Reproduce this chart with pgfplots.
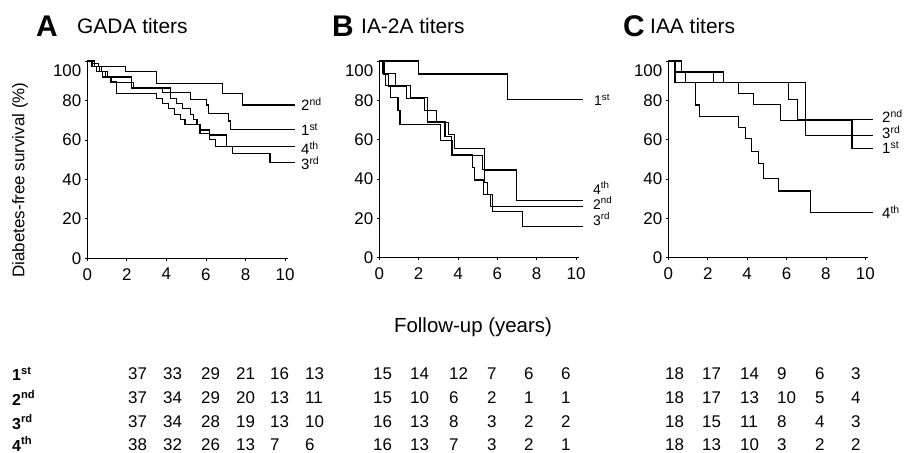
\documentclass[border=0pt]{standalone}
\usepackage{fontspec}
\setmainfont{Liberation Sans}
\usepackage{pgfplots}
\pgfplotsset{compat=1.18}
\newcommand\fs[1]{\fontsize{#1}{#1}\selectfont}
\pgfplotsset{km/.style={scale only axis, xmin=0, xmax=10.15, ymin=0, ymax=100,
  axis x line=bottom, axis y line=left, axis line style={-, line width=0.8pt},
  xtick={0,2,4,6,8,10}, ytick={0,20,40,60,80}, extra y ticks={100},
  extra y tick style={yticklabel style={yshift=-10bp}},
  tick align=outside, major tick length=2.5bp, tick style={line width=0.8pt, black},
  tick label style={font=\fs{17}}, /pgf/number format/assume math mode=true,
  xticklabel style={yshift=-4bp},
  clip=false, anchor=south west,
  cycle list={{black, no markers}},
  every axis plot post/.append style={const plot, black, line width=1.1pt, mark=none}}}
\begin{document}
\begin{tikzpicture}[x=1bp,y=1bp]
\path[use as bounding box] (0,0) rectangle (904,453);
% Panel A
\begin{axis}[km, at={(87.3bp,194.7bp)}, width=200.7bp, height=197.3bp]
\addplot coordinates {(0,100)(0.25,98.6)(0.55,97.1)(1.94,94.9)(3.51,88.7)(6.83,83.6)(7.84,77.7)(10.5,77.7)};
\addplot coordinates {(0,100)(0.35,97.3)(0.7,94.6)(1.0,91.9)(2.25,86.3)(4.19,83.8)(5.2,80.7)(6.05,77.7)(6.15,73.5)(7.15,69.6)(7.25,65.5)(10.5,65.5)};
\addplot coordinates {(0,100)(0.2,97.3)(0.45,94.6)(0.75,91.9)(1.2,89.2)(2.35,86.5)(3.8,83.8)(4.2,81.1)(4.5,78.4)(4.8,75.7)(5.2,73)(5.35,70.3)(5.55,67.6)(5.7,65)(6.2,62.5)(7.05,56.6)(7.35,52.9)(9.24,48.6)(10.5,48.6)};
\addplot coordinates {(0,100)(0.25,97.4)(0.6,94.7)(0.9,92.1)(1.2,89.5)(1.49,83.6)(3.5,81)(3.8,78.4)(4.1,75.7)(4.4,73)(4.7,70.3)(4.94,67.9)(5.7,63.4)(6.2,60)(6.5,56.6)(10.5,56.6)};
\end{axis}
% Panel B
\begin{axis}[km, at={(379.3bp,195.3bp)}, width=199.7bp, height=196.7bp]
\addplot coordinates {(0,100)(1.98,93.4)(6.5,80.2)(10.37,80.2)};
\addplot coordinates {(0,100)(0.2,93.3)(0.45,87.3)(1.36,81)(2.3,75)(2.45,69)(3.34,61.5)(3.65,52.2)(4.75,46)(4.85,39.5)(5.3,31.9)(5.65,25.9)(10.37,25.9)};
\addplot coordinates {(0,100)(0.15,93.8)(0.3,87.5)(0.55,81.3)(0.95,75)(1.05,67.5)(3.1,59.5)(3.7,51.9)(5.25,45)(5.35,38)(5.5,31.9)(5.75,23.4)(7.3,15.8)(10.37,15.8)};
\addplot coordinates {(0,100)(0.25,93.8)(0.8,87.5)(1.6,81.3)(2.45,75)(2.9,68.8)(3.5,62.5)(3.8,55.6)(5.35,44.6)(6.98,29.3)(10.37,29.3)};
\end{axis}
% Panel C
\begin{axis}[km, at={(668.3bp,195.3bp)}, width=200bp, height=196.7bp]
\addplot coordinates {(0,100)(0.34,88.9)(3.56,83.3)(4.32,77.8)(5.68,69.7)(9.32,55.3)(10.4,55.3)};
\addplot coordinates {(0,100)(0.68,94.4)(2.29,88.9)(6.1,80.5)(6.56,70.3)(10.4,70.3)};
\addplot coordinates {(0,100)(0.68,94.4)(2.8,88.9)(6.95,61.9)(10.4,61.9)};
\addplot coordinates {(0,100)(0.34,94.4)(0.85,88.9)(1.36,77.6)(1.58,72)(3.56,66.1)(3.9,60.7)(4.24,54.2)(4.58,48)(4.83,40.3)(5.6,33.9)(7.2,23)(10.4,23)};
\end{axis}
% titles
\node[anchor=west, inner sep=0, font=\fs{30}\bfseries] at (36,427) {A};
\node[anchor=west, inner sep=0, font=\fs{21}] at (77,427) {GADA titers};
\node[anchor=west, inner sep=0, font=\fs{30}\bfseries] at (332,427) {B};
\node[anchor=west, inner sep=0, font=\fs{21}] at (361,427) {IA-2A titers};
\node[anchor=west, inner sep=0, font=\fs{30}\bfseries] at (623,427) {C};
\node[anchor=west, inner sep=0, font=\fs{21}] at (650,427) {IAA titers};
% y label
\node[rotate=90, inner sep=0, font=\fs{17}] at (20,273) {Diabetes-free survival (\%)};
% x label
\node[inner sep=0, font=\fs{20.5}] at (473,126) {Follow-up (years)};
% curve labels A
\node[anchor=west, inner sep=0, font=\fs{15}] at (301,349) {2\textsuperscript{nd}};
\node[anchor=west, inner sep=0, font=\fs{15}] at (301,323) {1\textsuperscript{st}};
\node[anchor=west, inner sep=0, font=\fs{15}] at (301,305) {4\textsuperscript{th}};
\node[anchor=west, inner sep=0, font=\fs{15}] at (301,290) {3\textsuperscript{rd}};
% curve labels B
\node[anchor=west, inner sep=0, font=\fs{14}] at (594,353) {1\textsuperscript{st}};
\node[anchor=west, inner sep=0, font=\fs{14}] at (593,265) {4\textsuperscript{th}};
\node[anchor=west, inner sep=0, font=\fs{14}] at (593,250) {2\textsuperscript{nd}};
\node[anchor=west, inner sep=0, font=\fs{14}] at (593,234) {3\textsuperscript{rd}};
% curve labels C
\node[anchor=west, inner sep=0, font=\fs{15}] at (882,337) {2\textsuperscript{nd}};
\node[anchor=west, inner sep=0, font=\fs{15}] at (882,321) {3\textsuperscript{rd}};
\node[anchor=west, inner sep=0, font=\fs{15}] at (882,305) {1\textsuperscript{st}};
\node[anchor=west, inner sep=0, font=\fs{15}] at (882,241) {4\textsuperscript{th}};
% table
\foreach \y/\lab in {79/1\textsuperscript{st},55/2\textsuperscript{nd},31/3\textsuperscript{rd},9/4\textsuperscript{th}}
  \node[anchor=west, inner sep=0, font=\fs{16}\bfseries] at (12,\y) {\lab};
\foreach \x/\v in {128/37,163/33,201/29,236/21,270/16,305/13,373/15,410/14,449/12,487/7,524/6,561/6,665/18,702/17,740/14,777/9,815/6,851/3}
  \node[anchor=west, inner sep=0, font=\fs{17}] at (\x,79) {\v};
\foreach \x/\v in {128/37,163/34,201/29,236/20,270/13,305/11,373/15,410/10,449/6,487/2,524/1,561/1,665/18,702/17,740/13,777/10,815/5,851/4}
  \node[anchor=west, inner sep=0, font=\fs{17}] at (\x,55) {\v};
\foreach \x/\v in {128/37,163/34,201/28,236/19,270/13,305/10,373/16,410/13,449/8,487/3,524/2,561/2,665/18,702/15,740/11,777/8,815/4,851/3}
  \node[anchor=west, inner sep=0, font=\fs{17}] at (\x,31) {\v};
\foreach \x/\v in {128/38,163/32,201/26,236/13,270/7,305/6,373/16,410/13,449/7,487/3,524/2,561/1,665/18,702/13,740/10,777/3,815/2,851/2}
  \node[anchor=west, inner sep=0, font=\fs{17}] at (\x,8) {\v};
\end{tikzpicture}
\end{document}
